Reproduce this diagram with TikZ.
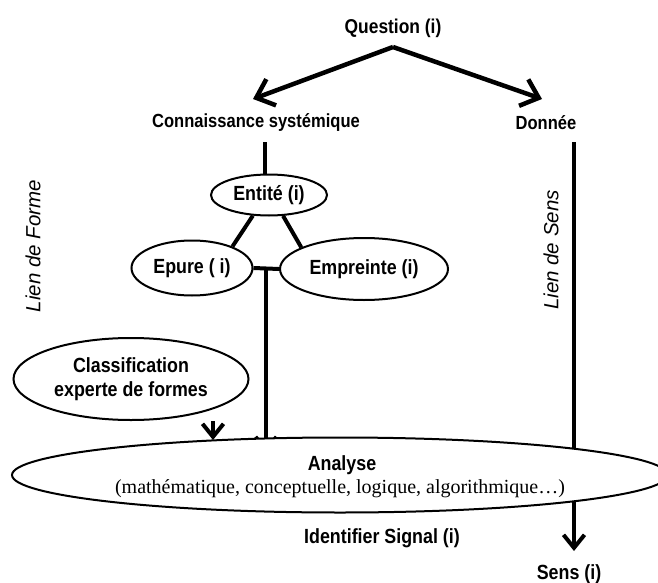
\documentclass[tikz,border=0pt]{standalone}
\usepackage{fontspec}
\setmainfont{Liberation Serif}
\setsansfont{Liberation Sans}
\usetikzlibrary{shapes.geometric,arrows.meta}
% narrow setting for the bold sans labels
\newcommand{\nrw}[1]{\scalebox{0.87}[1]{#1}}
\begin{document}
\begin{tikzpicture}[x=1pt,y=-1pt,
  lbl/.style={font=\sffamily\bfseries\fontsize{19}{21}\selectfont, inner sep=0pt},
  big/.style={font=\sffamily\bfseries\fontsize{20.5}{23}\selectfont, inner sep=0pt},
  oval/.style={ellipse, draw, line width=2pt, inner sep=0pt, align=center,
               font=\sffamily\bfseries\fontsize{20.5}{23.5}\selectfont},
  side/.style={font=\sffamily\itshape\fontsize{20.5}{22}\selectfont, rotate=90, inner sep=0pt},
  link/.style={line width=4pt},
  arr/.style={line width=4pt, -{Straight Barb[length=13pt, width=21pt]}},
  bigarr/.style={line width=4.5pt, -{Straight Barb[length=16pt, width=28pt]}},
]
\useasboundingbox (0,0) rectangle (658,583);
\clip (0,0) rectangle (658,583);

% top labels
\node[lbl, font=\sffamily\bfseries\fontsize{20}{22}\selectfont] (q) at (393,28) {\nrw{Question (i)}};
\node[lbl] (cs) at (256,123) {\nrw{Connaissance systémique}};
\node[lbl] (do) at (546,123) {\nrw{Donnée}};

% branching arrows from the question
\coordinate (qa) at (393,47);
\coordinate (ca) at (253,99);
\coordinate (da) at (542,99);
\draw[bigarr] (qa) -- (ca);
\draw[bigarr] (qa) -- (da);

% form entities
\node[oval, minimum width=116pt, minimum height=41pt] (ent) at (269,195) {\nrw{Entité (i)}};
\node[oval, minimum width=121pt, minimum height=55pt] (epu) at (192,268) {\nrw{Epure ( i)}};
\node[oval, minimum width=168pt, minimum height=62pt] (emp) at (364,269) {\nrw{Empreinte (i)}};
\node[oval, minimum width=235pt, minimum height=82pt] (cla) at (131,379)
  {\nrw{Classification}\\\nrw{experte de formes}};

\coordinate (cs0) at (265,142);
\draw[link] (cs0) -- (ent.north -| cs0);
\draw[link] (ent.232) -- (epu.28);
\draw[link] (ent.304) -- (emp.161.6);
\draw[link] (epu.east) -- (emp.west);
\coordinate (j) at (266,268);
\coordinate (jb) at (266,453);
\draw[arr] (j) -- (jb);

% meaning link
\coordinate (do0) at (574,142);
\coordinate (se) at (574,551);
\draw[arr] (do0) -- (se);

% expert classification feeds the analysis
\coordinate (cb) at (213,440);
\draw[arr] (cla.south -| cb) -- (cb);

% analysis
\node[ellipse, draw, line width=2pt, fill=white, minimum width=656pt, minimum height=75pt, inner sep=0pt] (an) at (340,475) {};
\node[big] (ant) at (342,465) {\nrw{Analyse}};
\node[inner sep=0pt, font=\rmfamily\fontsize{20}{22}\selectfont] (ans) at (340,489)
  {(mathématique, conceptuelle, logique, algorithmique…)};

\node[big] (id) at (382,538) {\nrw{Identifier Signal (i)}};
\node[big] (sens) at (569,574) {\nrw{Sens (i)}};

% side captions
\node[side] (lf) at (33,246) {Lien de Forme};
\node[side] (ls) at (551,250) {Lien de Sens};
\end{tikzpicture}
\end{document}
